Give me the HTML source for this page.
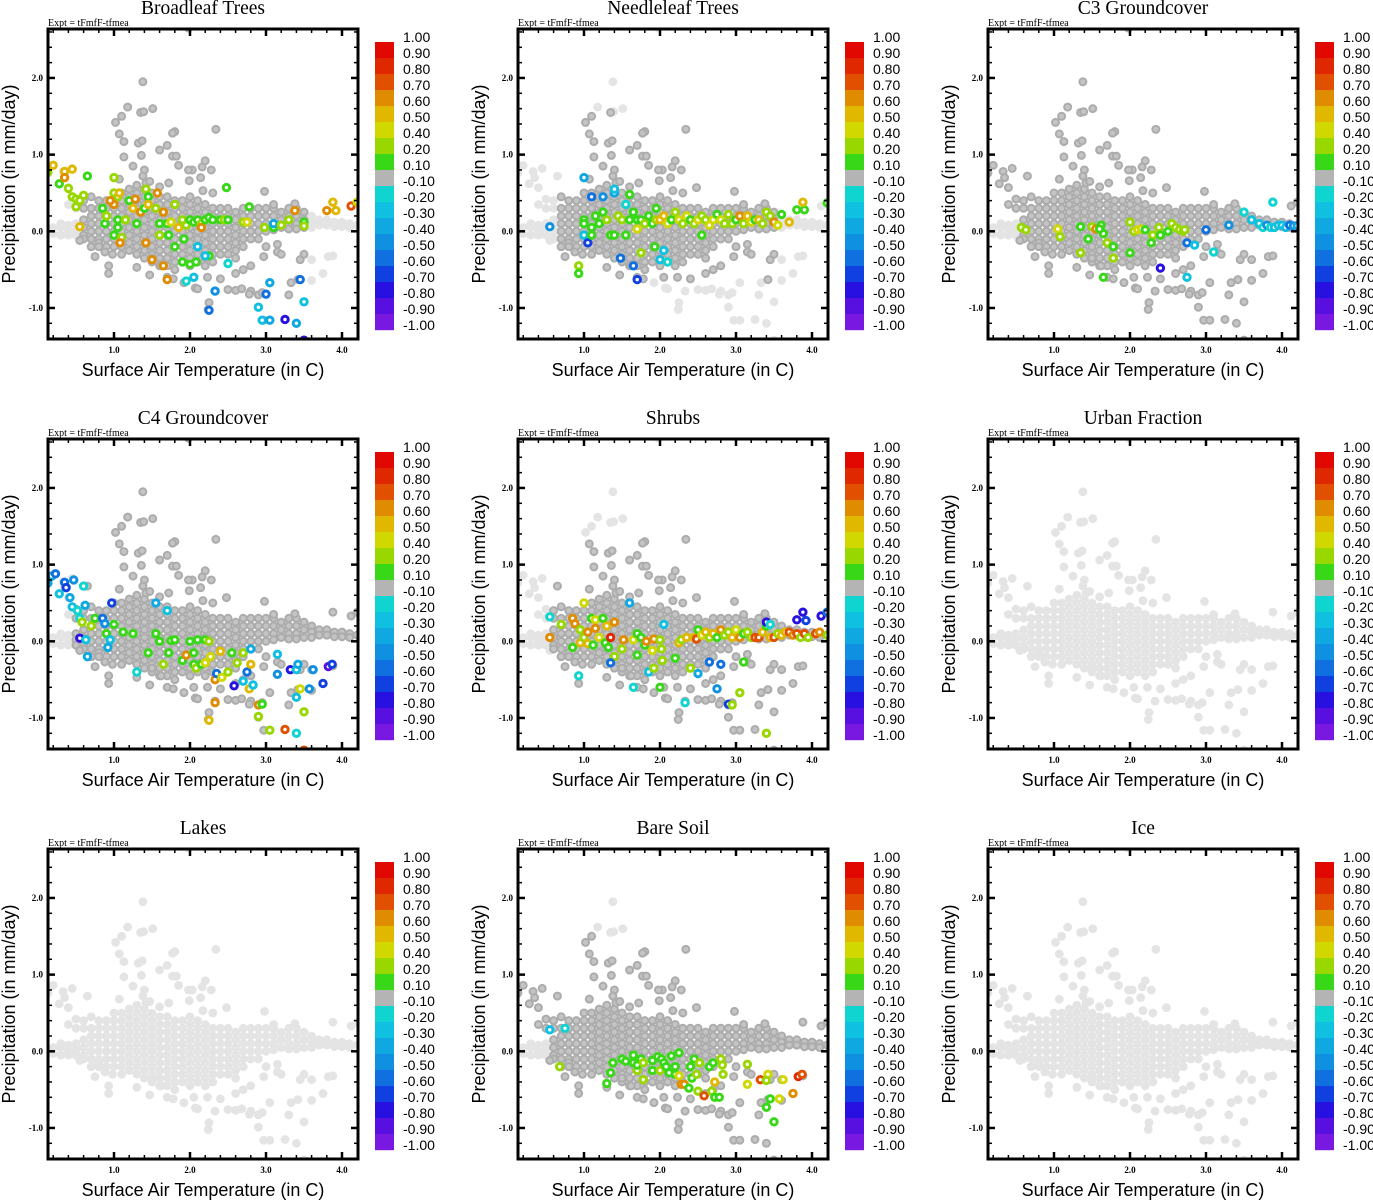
<!DOCTYPE html>
<html><head><meta charset="utf-8"><style>
html,body{margin:0;padding:0;background:#fff}
svg{display:block}
</style></head><body>
<svg id="fig" width="1373" height="1200" viewBox="0 0 1373 1200" xmlns="http://www.w3.org/2000/svg"></svg>
<script>
// ---- data ----
const panelTitles = ["Broadleaf Trees","Needleleaf Trees","C3 Groundcover","C4 Groundcover","Shrubs","Urban Fraction","Lakes","Bare Soil","Ice"];
const xTicks = [1.0,2.0,3.0,4.0];
const yTicks = [2.0,1.0,0.0,-1.0];
const cbarLabels = ["1.00","0.90","0.80","0.70","0.60","0.50","0.40","0.20","0.10","-0.10","-0.20","-0.30","-0.40","-0.50","-0.60","-0.70","-0.80","-0.90","-1.00"];
const cbarEdges = [1.0,0.9,0.8,0.7,0.6,0.5,0.4,0.2,0.1,-0.1,-0.2,-0.3,-0.4,-0.5,-0.6,-0.7,-0.8,-0.9,-1.0];
const cbarColors = ["#e00800","#e02800","#e05000","#e08c00","#e0b800","#d0d800","#98d800","#38d818","#b4b4b4","#10d4d0","#10c0e0","#10a8e0","#1090e0","#1070e0","#1040e0","#2810e0","#5810e0","#7818e0"];
// base cloud: core columns (x, list of y)
const coreCols = [
[0.2,[0.05,-0.03]],[0.3,[0.05,-0.05,0.1]],[0.4,[0.08,0.0,-0.05,0.35]],[0.5,[0.1,0.02,0.3,0.42,-0.05]],
[0.6,[0.4,0.3,0.15,0.05,-0.05,-0.1]],[0.7,[0.45,0.3,0.2,0.1,0.0,-0.1,-0.2]],[0.8,[0.4,0.3,0.2,0.1,0.0,-0.1,-0.15]],
[0.9,[0.4,0.3,0.2,0.1,0.0,-0.1,-0.2]],[1.0,[0.5,0.4,0.3,0.2,0.1,0.0,-0.1,-0.2]],[1.1,[0.5,0.4,0.3,0.2,0.1,0.0,-0.1,-0.2,-0.3]],
[1.2,[0.55,0.45,0.35,0.25,0.15,0.05,-0.05,-0.15,-0.25]],[1.3,[0.6,0.5,0.4,0.3,0.2,0.1,0.0,-0.1,-0.2,-0.3]],
[1.4,[0.55,0.45,0.35,0.25,0.15,0.05,-0.05,-0.15,-0.25,-0.35]],[1.5,[0.5,0.4,0.3,0.2,0.1,0.0,-0.1,-0.2,-0.3,-0.4]],
[1.6,[0.45,0.35,0.25,0.15,0.05,-0.05,-0.15,-0.25,-0.35,-0.45]],[1.7,[0.45,0.35,0.25,0.15,0.05,-0.05,-0.15,-0.25,-0.35,-0.45]],
[1.8,[0.4,0.3,0.2,0.1,0.0,-0.1,-0.2,-0.3,-0.4,-0.5]],[1.9,[0.4,0.3,0.2,0.1,0.0,-0.1,-0.2,-0.3,-0.4]],
[2.0,[0.45,0.35,0.25,0.15,0.05,-0.05,-0.15,-0.25,-0.35,-0.45]],[2.1,[0.4,0.3,0.2,0.1,0.0,-0.1,-0.2,-0.3,-0.4]],
[2.2,[0.35,0.25,0.15,0.05,-0.05,-0.15,-0.25,-0.35,-0.45]],[2.3,[0.3,0.2,0.1,0.0,-0.1,-0.2,-0.3,-0.4]],
[2.4,[0.3,0.2,0.1,0.0,-0.1,-0.2,-0.3]],[2.5,[0.3,0.2,0.1,0.0,-0.1,-0.2,-0.3]],[2.6,[0.25,0.15,0.05,-0.05,-0.15,-0.25]],
[2.7,[0.3,0.2,0.1,0.0,-0.1,-0.2]],[2.8,[0.3,0.2,0.1,0.0,-0.1]],[2.9,[0.3,0.2,0.1,0.0,-0.1]],[3.0,[0.3,0.2,0.1,0.0]],
[3.1,[0.3,0.2,0.1,0.02]],[3.2,[0.25,0.15,0.05]],[3.3,[0.3,0.2,0.1,0.03]],[3.4,[0.3,0.2,0.1,0.03]],[3.5,[0.25,0.15,0.05]],
[3.6,[0.2,0.12,0.05]],[3.7,[0.15,0.08]],[3.8,[0.15,0.08]],[3.9,[0.12,0.06]],[4.0,[0.12,0.06]],[4.1,[0.1,0.05]],[4.2,[0.08]]
];
const outlierX = [1.38,1.18,1.51,1.35,1.39,1.1,1.02,1.07,2.34,1.13,1.32,1.37,1.8,1.77,1.6,1.7,1.36,1.13,1.77,1.82,1.25,1.85,1.4,1.38,2.03,1.98,2.2,2.16,2.28,2.14,1.99,1.6,1.72,1.42,1.47,1.07,2.48,0.65,0.45,0.33,0.35,0.2,0.13,0.28,0.4,2.98,2.17,2.3,3.88,4.12,4.2,3.1,3.38,
0.93,0.93,1.3,1.47,1.7,1.78,1.92,2.05,2.07,2.1,2.23,2.33,2.5,2.6,2.68,2.8,2.9,2.95,2.78,3.05,2.25,2.24,2.9,2.97,3.05,3.25,3.4,3.5,3.3,3.33,3.42,3.6,3.75,3.45,3.6,3.82,3.88,3.5,2.97,3.15,3.15,2.8,2.7,2.6,0.75,0.8,0.88,0.98,0.55,3.5,1.98,0.7,1.5,1.62,2.4,2.6,3.0,3.2];
const outlierY = [1.95,1.62,1.6,1.55,1.56,1.5,1.42,1.27,1.33,1.17,1.15,1.18,1.3,1.28,1.06,1.12,0.99,0.97,0.98,0.98,0.85,0.86,0.8,0.72,0.8,0.8,0.92,0.84,0.8,0.7,0.66,0.58,0.63,0.63,0.65,0.68,0.57,0.72,0.82,0.78,0.7,0.86,0.76,0.62,0.57,0.52,0.53,0.5,0.38,0.33,0.38,0.35,0.36,
-0.45,-0.55,-0.47,-0.57,-0.6,-0.62,-0.67,-0.6,-0.74,-0.75,-0.6,-0.78,-0.76,-0.77,-0.75,-0.78,-0.83,-0.8,-0.82,-0.67,-0.93,-1.02,-0.99,-1.16,-1.16,-1.15,-1.2,-0.92,-0.83,-0.67,-0.63,-0.64,-0.55,-0.37,-0.37,-0.33,-0.32,-0.3,-0.33,-0.27,-0.17,-0.45,-0.5,-0.55,-0.33,-0.2,-0.27,-0.3,-0.12,-1.42,2.65,-0.2,-0.35,-0.45,-0.62,-0.35,-0.2,-0.3];
// per-panel dark-gray regions [xmin,xmax,ymin,ymax]
const darkRegions = [
 [[0.55,3.5,-1.3,2.7]],
 [[0.7,3.5,-0.65,1.55]],
 [[0.55,4.3,-1.5,2.7],[0.1,0.55,0.15,2.7]],
 [[0.5,4.3,-1.5,2.7]],
 [[0.6,4.3,-1.5,1.4]],
 [],
 [],
 [[0.55,4.3,-1.5,1.5],[0.1,0.55,0.3,1.0]],
 []
];
// colored points per panel: [x, y, value]
const colored1 = [[0.13,0.77,.3],[0.2,0.86,.5],[0.28,0.62,.15],[0.35,0.78,.5],[0.35,0.7,.65],[0.45,0.81,.5],[0.4,0.56,.3],[0.45,0.45,.3],[0.5,0.42,.3],[0.55,0.4,.3],[0.5,0.32,.3],[0.65,0.72,.15],[0.6,0.47,.3],[0.55,0.06,.5],[0.85,0.3,.15],[0.88,0.1,.15],[0.9,0.2,.3],[1.0,0.7,.3],[1.0,0.5,.3],[1.05,0.45,.3],[1.07,0.5,.5],[1.0,0.35,.6],[0.95,0.4,.6],[1.05,0.15,.15],[1.05,0.05,.15],[1.0,-0.05,.15],[1.1,-0.08,.3],[1.08,-0.15,.65],[1.15,0.15,.3],[1.2,0.4,.15],[1.25,0.3,.5],[1.28,0.42,.6],[1.3,0.1,.15],[1.35,0.25,.6],[1.4,0.3,.15],[1.42,0.55,.3],[1.45,0.45,.15],[1.45,0.35,.5],[1.42,-0.15,.6],[1.55,0.3,.3],[1.57,0.5,.65],[1.6,0.1,.15],[1.6,-0.05,.3],[1.65,0.25,.65],[1.7,0.1,.15],[1.75,0.12,.4],[1.72,-0.05,.15],[1.8,0.35,.3],[1.8,-0.2,.15],[1.85,0.05,.5],[1.9,0.15,.3],[1.92,-0.1,.15],[1.95,0.08,.3],[2.0,0.15,.15],[2.05,0.12,.15],[2.1,0.15,.15],[2.15,0.1,.3],[2.15,0.05,.65],[2.2,0.15,.15],[2.25,0.18,.15],[2.3,0.15,.15],[2.4,0.15,.15],[2.45,0.15,.3],[2.5,0.15,.15],[1.9,-0.4,.15],[2.0,-0.43,.15],[2.08,-0.4,.15],[2.25,-0.32,.15],[2.1,-0.2,-0.25],[2.2,-0.32,-0.25],[2.5,-0.42,-0.2],[1.5,-0.37,.6],[1.65,-0.45,.6],[1.7,-0.63,.6],[1.95,-0.65,-0.2],[2.05,-0.6,-0.25],[2.33,-0.78,-0.5],[2.25,-1.03,-0.6],[2.48,0.57,.15],[2.78,0.32,.15],[2.7,0.12,.3],[2.75,0.12,.4],[2.98,0.05,.3],[3.1,0.05,.15],[3.1,0.1,-0.35],[3.2,0.08,.3],[3.3,0.15,.3],[3.38,0.27,.65],[3.5,0.12,.15],[3.5,0.07,.3],[3.8,0.27,.65],[3.88,0.38,.5],[3.92,0.27,.5],[4.12,0.33,.75],[4.2,0.38,.4],[3.05,-0.67,-0.4],[3.0,-0.82,-0.55],[2.9,-0.99,-0.25],[2.95,-1.16,-0.25],[3.05,-1.16,-0.4],[3.25,-1.15,-0.8],[3.4,-1.2,-0.4],[3.5,-0.92,-0.3],[3.45,-0.63,-0.6],[3.5,-1.42,-0.8]];
const colored2 = [[0.55,0.06,-0.5],[1.0,0.7,-0.4],[1.0,-0.05,-0.25],[1.05,-0.15,-0.7],[1.1,0.45,-0.6],[1.25,0.45,-0.5],[1.4,0.5,-0.4],[1.4,0.55,-0.3],[1.55,0.35,-0.2],[1.6,0.48,.15],[0.93,-0.45,.3],[0.93,-0.55,.15],[1.48,-0.35,-0.6],[1.65,-0.45,-0.6],[1.7,-0.63,-0.7],[1.75,-0.28,.3],[1.93,-0.2,.15],[2.0,-0.37,-0.25],[2.1,-0.4,-0.2],[2.05,-0.25,-0.25],[1.0,0.15,.15],[1.0,0.1,.15],[1.1,0.05,.15],[1.1,-0.05,.15],[1.15,0.2,.15],[1.2,0.1,.15],[1.25,0.25,.15],[1.3,0.15,.3],[1.35,-0.05,.15],[1.4,-0.05,.15],[1.45,0.2,.3],[1.5,0.15,.3],[1.55,-0.05,.15],[1.6,0.15,.15],[1.65,0.25,.15],[1.7,0.15,.15],[1.7,0.03,.4],[1.75,0.15,.15],[1.8,0.1,.3],[1.85,0.2,.15],[1.9,0.1,.15],[1.95,0.15,.3],[2.0,0.15,.5],[2.05,0.2,.5],[2.1,0.1,.4],[2.15,0.15,.15],[2.2,0.25,.3],[2.25,0.15,.4],[2.3,0.1,.3],[2.35,0.2,.4],[2.4,0.15,.15],[2.45,0.1,.3],[2.5,0.15,.4],[2.55,0.2,.3],[2.6,0.15,.3],[2.65,0.08,.4],[2.7,0.15,.4],[2.75,0.22,.15],[2.8,0.15,.4],[2.85,0.1,.3],[2.9,0.22,.3],[2.95,0.1,.3],[3.0,0.15,.15],[3.05,0.2,.65],[3.1,0.1,.3],[3.15,0.2,.5],[3.2,0.12,.4],[3.25,0.15,.15],[3.3,0.15,.5],[3.35,0.1,.3],[3.4,0.25,.3],[3.45,0.2,.3],[3.5,0.12,.65],[3.55,0.08,.4],[3.6,0.22,.15],[3.7,0.12,.5],[3.8,0.28,.15],[3.9,0.28,.15],[3.88,0.38,.55],[4.2,0.37,.15],[2.55,-0.05,.15],[1.95,0.3,.15]];
const colored3 = [[0.57,0.05,.3],[0.63,0.02,.3],[1.05,0.03,.4],[1.08,-0.07,.3],[1.35,0.06,.15],[1.45,-0.1,.15],[1.5,0.06,.3],[1.55,0.03,.65],[1.62,0.08,.15],[1.65,-0.03,.15],[1.6,0.03,.15],[1.7,-0.15,.3],[1.78,-0.2,.15],[1.78,-0.35,.3],[1.35,-0.28,.3],[1.65,-0.6,.15],[2.0,0.12,.3],[2.05,0.0,.3],[2.1,0.02,.4],[2.15,0.03,.4],[2.2,0.02,.15],[2.0,-0.28,.15],[2.3,-0.05,.3],[2.28,-0.15,.15],[2.38,0.05,.3],[2.4,-0.05,.15],[2.5,0.0,.15],[2.55,0.1,.3],[2.6,0.05,.3],[2.65,0.02,.3],[2.7,0.0,.3],[2.72,0.02,.3],[2.75,-0.15,-0.55],[2.85,-0.18,-0.3],[3.1,-0.27,-0.2],[2.75,-0.6,-0.25],[2.4,-0.48,-0.75],[3.5,0.25,-0.2],[3.6,0.15,-0.3],[3.7,0.1,-0.3],[3.75,0.05,-0.2],[3.8,0.08,-0.5],[3.85,0.05,-0.2],[3.88,0.38,-0.2],[3.9,0.05,-0.3],[3.95,0.08,-0.3],[4.0,0.08,-0.3],[4.05,0.05,-0.25],[4.1,0.08,-0.6],[4.15,0.07,-0.5],[4.2,0.07,-0.4],[3.3,0.08,-0.5],[3.0,0.02,-0.6]];
const colored4 = [[0.13,0.76,-0.4],[0.18,0.85,-0.4],[0.23,0.88,-0.6],[0.35,0.77,-0.6],[0.37,0.7,-0.7],[0.47,0.8,-0.5],[0.28,0.62,-0.3],[0.42,0.57,-0.4],[0.6,0.72,-0.2],[0.45,0.45,-0.25],[0.52,0.4,-0.2],[0.62,0.47,-0.4],[0.55,0.3,-0.2],[0.55,0.04,-0.8],[0.63,0.02,-0.3],[0.65,-0.2,-0.4],[0.58,0.25,.3],[0.7,0.2,.3],[0.75,0.3,.15],[0.85,0.3,-0.6],[0.88,0.23,-0.5],[0.9,0.1,.15],[0.95,0.02,-0.3],[0.92,-0.08,-0.4],[0.97,0.5,-0.7],[1.0,0.22,.15],[1.12,0.12,.15],[1.25,0.1,.15],[1.3,-0.4,-0.2],[1.45,-0.15,.15],[1.55,0.1,.15],[1.6,0.0,.15],[1.55,0.5,-0.4],[1.7,0.4,-0.3],[1.65,-0.3,.3],[1.72,-0.15,.15],[1.75,0.01,.15],[1.8,0.02,.15],[1.9,-0.25,.15],[1.95,-0.18,.65],[2.0,0.0,.15],[2.05,-0.3,.15],[2.05,-0.15,.15],[2.08,-0.35,.3],[2.1,0.02,.15],[2.15,-0.3,.15],[2.2,0.02,.15],[2.2,-0.28,.4],[2.25,0.0,.3],[2.27,-0.2,.4],[2.33,-0.5,.6],[2.35,-0.42,-0.6],[2.4,-0.13,.5],[2.42,-0.47,.4],[2.5,-0.4,.3],[2.55,-0.15,.15],[2.58,-0.58,-0.8],[2.62,-0.28,.3],[2.7,-0.52,-0.25],[2.7,-0.15,.3],[2.75,-0.4,-0.6],[2.78,-0.62,.5],[2.8,-0.3,.5],[2.8,-0.1,-0.4],[2.83,-0.57,-0.25],[2.9,-0.83,.6],[2.95,-0.82,.15],[2.9,-0.98,.3],[3.05,-1.16,.3],[2.25,-1.03,.5],[2.33,-0.8,.6],[3.15,-0.43,-0.5],[3.15,-0.17,-0.3],[3.25,-1.15,.75],[3.32,-0.37,-0.8],[3.4,-0.37,-0.3],[3.42,-0.3,-0.4],[3.45,-0.62,.4],[3.4,-0.73,-0.3],[3.5,-0.92,.3],[3.4,-1.2,-0.2],[3.5,-1.42,.75],[3.57,-0.62,-0.5],[3.62,-0.37,-0.5],[3.75,-0.55,-0.7],[3.82,-0.33,-0.9],[3.87,-0.3,-0.7]];
const colored5 = [[0.55,0.32,-0.2],[0.55,0.05,.65],[0.7,0.22,.3],[0.85,0.3,.6],[0.88,0.23,.65],[0.85,-0.08,.15],[0.95,-0.02,.5],[0.95,0.15,.3],[1.0,0.5,.4],[1.0,0.05,.3],[1.05,0.12,.6],[1.05,-0.03,.5],[1.1,0.3,.15],[1.12,-0.05,.15],[1.15,0.28,.4],[1.15,0.17,.6],[1.2,0.05,.4],[1.25,0.3,.15],[1.28,-0.02,.15],[1.3,0.2,.5],[1.32,-0.08,.15],[1.35,0.05,.8],[1.4,0.25,.65],[1.4,-0.2,.3],[1.35,-0.28,-0.6],[1.5,-0.1,.3],[1.52,0.02,.6],[1.6,0.5,-0.4],[1.65,0.02,.4],[1.7,-0.18,.15],[1.7,0.1,.15],[1.75,0.05,.15],[1.8,-0.05,.15],[1.82,0.0,.6],[1.85,-0.4,-0.3],[1.9,-0.12,.4],[1.92,0.03,.6],[1.92,-0.35,.3],[2.0,0.02,.3],[2.02,-0.1,.3],[2.03,-0.25,.3],[2.05,0.22,-0.25],[2.0,-0.6,.15],[2.2,-0.22,.15],[2.25,-0.02,.5],[2.28,0.02,.3],[2.35,0.05,.5],[2.4,-0.35,.3],[2.5,-0.42,-0.4],[2.45,0.05,.5],[2.5,0.15,.15],[2.48,0.03,.75],[2.55,0.08,.4],[2.6,0.12,.5],[2.65,0.05,.3],[2.7,0.1,.5],[2.75,0.05,.15],[2.8,0.15,.6],[2.85,0.08,.3],[2.9,0.12,.3],[2.95,0.05,.5],[3.0,0.15,.4],[3.05,0.05,.6],[3.1,0.1,.15],[3.15,0.12,.3],[3.2,0.05,.3],[3.25,0.05,.75],[3.3,0.05,.75],[3.35,0.12,.5],[3.4,0.2,.15],[3.45,0.05,.5],[3.5,0.05,.75],[3.55,0.1,.3],[3.6,0.08,.5],[3.65,0.12,.5],[3.7,0.12,.75],[3.75,0.08,.6],[3.8,0.1,.75],[3.85,0.05,.3],[3.9,0.1,.75],[3.95,0.05,.3],[4.05,0.1,.75],[4.1,0.12,.65],[4.2,0.08,.3],[3.4,0.25,-0.8],[3.45,0.22,-0.2],[3.8,0.28,-0.8],[3.88,0.38,-0.8],[3.92,0.27,-0.7],[4.12,0.33,-0.8],[4.2,0.38,-0.6],[2.65,-0.27,-0.6],[2.8,-0.3,-0.6],[2.75,-0.62,-0.5],[2.9,-0.82,-0.7],[2.95,-0.83,.3],[3.05,-0.67,.3],[3.1,-0.27,.15],[2.33,-0.8,-0.2],[1.65,-0.6,-0.2],[0.93,-0.45,-0.2],[3.4,-1.2,.3]];
const colored8 = [[0.55,0.28,-0.3],[0.75,0.3,-0.2],[0.68,-0.2,.3],[1.3,-0.42,.15],[1.35,-0.28,.15],[1.38,-0.15,.15],[1.5,-0.1,.15],[1.55,-0.13,.15],[1.65,-0.05,.15],[1.65,-0.15,.15],[1.7,-0.25,.3],[1.7,-0.18,.15],[1.75,-0.1,.15],[1.78,-0.15,.3],[1.78,-0.37,.3],[1.9,-0.12,.15],[1.9,-0.25,.15],[1.97,-0.07,.15],[2.0,-0.25,.3],[2.02,-0.1,.15],[2.05,-0.15,.15],[2.08,-0.2,.15],[2.12,-0.28,.15],[2.15,-0.06,.15],[2.2,-0.2,.15],[2.2,-0.3,.15],[2.25,-0.02,.15],[2.25,-0.32,.4],[2.28,-0.43,.6],[2.32,-0.43,.6],[2.38,-0.48,.15],[2.4,-0.2,.15],[2.42,-0.35,.15],[2.45,-0.1,.15],[2.48,-0.3,.3],[2.5,-0.52,.3],[2.52,-0.15,.3],[2.58,-0.58,.75],[2.65,-0.2,.15],[2.68,-0.52,.3],[2.7,-0.15,.15],[2.72,-0.6,.15],[2.78,-0.6,.15],[2.72,-0.4,.5],[2.8,-0.1,.3],[2.82,-0.18,.3],[2.83,-0.3,.3],[3.15,-0.17,.3],[3.15,-0.43,.4],[3.32,-0.37,.75],[3.42,-0.3,.4],[3.4,-0.38,.3],[3.45,-0.62,.15],[3.4,-0.73,.15],[3.5,-0.92,.15],[3.57,-0.62,.4],[3.62,-0.37,.4],[3.75,-0.55,.65],[3.82,-0.33,.8],[3.87,-0.3,.75]];
const coloredSets = [colored1,colored2,colored3,colored4,colored5,[],[],colored8,[]];

// ---- drawing ----
const NS="http://www.w3.org/2000/svg";
const svg=document.getElementById('fig');
function mk(tag,attrs,parent){const e=document.createElementNS(NS,tag);for(const k in attrs)e.setAttribute(k,attrs[k]);(parent||svg).appendChild(e);return e;}
function colorFor(v){for(let i=0;i<cbarColors.length;i++){if(v<=cbarEdges[i]&&v>=cbarEdges[i+1])return cbarColors[i];}return v>1?cbarColors[0]:cbarColors[cbarColors.length-1];}
const basePts=[];
coreCols.forEach(c=>c[1].forEach(y=>basePts.push([c[0],y])));
outlierX.forEach((x,i)=>basePts.push([x,outlierY[i]]));
function inDark(p,regs){return regs.some(r=>p[0]>=r[0]&&p[0]<=r[1]&&p[1]>=r[2]&&p[1]<=r[3]);}

panelTitles.forEach((title,pi)=>{
  const ox=(pi%3)*470, oy=Math.floor(pi/3)*410;
  const L=ox+48,R=ox+358,T=oy+29,B=oy+339;
  const sx=x=>ox+38+76*x, sy=y=>oy+231.3-76.67*y;
  const g=mk('g',{});
  
  
  const t=mk('text',{x:ox+203,y:oy+14,'text-anchor':'middle','font-family':'Liberation Serif, serif','font-size':19.5},g);
  t.textContent=title;
  
  
  const ex=mk('text',{x:L,y:oy+26,'font-family':'Liberation Serif, serif','font-size':10},g);
  ex.textContent='Expt = tFmfF-tfmea';
  
  
  const cid='clip'+pi;
  const cp=mk('clipPath',{id:cid},g); mk('rect',{x:L,y:T,width:R-L,height:B-T},cp);
  const pts=mk('g',{'clip-path':'url(#'+cid+')'},g);
  
  
  const regs=darkRegions[pi];
  basePts.forEach(p=>{ if(!inDark(p,regs)){const c=mk('circle',{cx:sx(p[0]),cy:sy(p[1]),r:4.4,fill:'#e4e4e4'},pts);
    
    }});
  basePts.forEach(p=>{ if(inDark(p,regs)){const c=mk('circle',{cx:sx(p[0]),cy:sy(p[1]),r:3.5,fill:'#c4c4c4',stroke:'#acacac','stroke-width':2},pts);
    
    }});
  coloredSets[pi].forEach(p=>{const c=mk('circle',{cx:sx(p[0]),cy:sy(p[1]),r:3.2,fill:'#fff',stroke:colorFor(p[2]),'stroke-width':3},pts);
    
    });
  const fr=mk('rect',{x:L,y:T,width:R-L,height:B-T,fill:'none',stroke:'#000','stroke-width':3},g);
  
  
  for(let v=0.2;v<=4.2;v+=0.2){const X=sx(v);if(X<L+2||X>R-2)continue;const maj=Math.abs(v-Math.round(v))<0.01;const len=maj?7:4;
    mk('line',{x1:X,x2:X,y1:B,y2:B-len,stroke:'#000','stroke-width':maj?2.5:1.5},g);
    mk('line',{x1:X,x2:X,y1:T,y2:T+len,stroke:'#000','stroke-width':maj?2.5:1.5},g);}
  for(let v=-1.4;v<=2.6;v+=0.2){const Y=sy(v);if(Y<T+2||Y>B-2)continue;const maj=Math.abs(v-Math.round(v))<0.01;const len=maj?7:4;
    mk('line',{x1:L,x2:L+len,y1:Y,y2:Y,stroke:'#000','stroke-width':maj?2.5:1.5},g);
    mk('line',{x1:R,x2:R-len,y1:Y,y2:Y,stroke:'#000','stroke-width':maj?2.5:1.5},g);}
  xTicks.forEach(v=>{const tx=mk('text',{x:sx(v),y:B+14,'text-anchor':'middle','font-family':'Liberation Serif, serif','font-size':9,'font-weight':'bold'},g);tx.textContent=v.toFixed(1);
    
    });
  yTicks.forEach(v=>{const tx=mk('text',{x:L-5,y:sy(v)+3,'text-anchor':'end','font-family':'Liberation Serif, serif','font-size':9,'font-weight':'bold'},g);tx.textContent=v.toFixed(1);
    
    });
  const xt=mk('text',{x:ox+203,y:oy+376,'text-anchor':'middle','font-family':'Liberation Sans, sans-serif','font-size':18},g);
  xt.textContent='Surface Air Temperature (in C)';
  
  
  const yt=mk('text',{x:0,y:0,'text-anchor':'middle','font-family':'Liberation Sans, sans-serif','font-size':18,transform:'translate('+(ox+15)+','+(oy+184)+') rotate(-90)'},g);
  yt.textContent='Precipitation (in mm/day)';
  
  
  const cb=mk('g',{},g);
  
  
  cbarColors.forEach((c,i)=>{const r=mk('rect',{x:ox+375,y:oy+42+16*i,width:19,height:16.2,fill:c},cb);
    
    });
  cbarLabels.forEach((s,i)=>{const tx=mk('text',{x:ox+403,y:oy+42+16*i,'font-family':'Liberation Sans, sans-serif','font-size':14},cb);tx.textContent=s;
    
    });
});
</script>
</body></html>
